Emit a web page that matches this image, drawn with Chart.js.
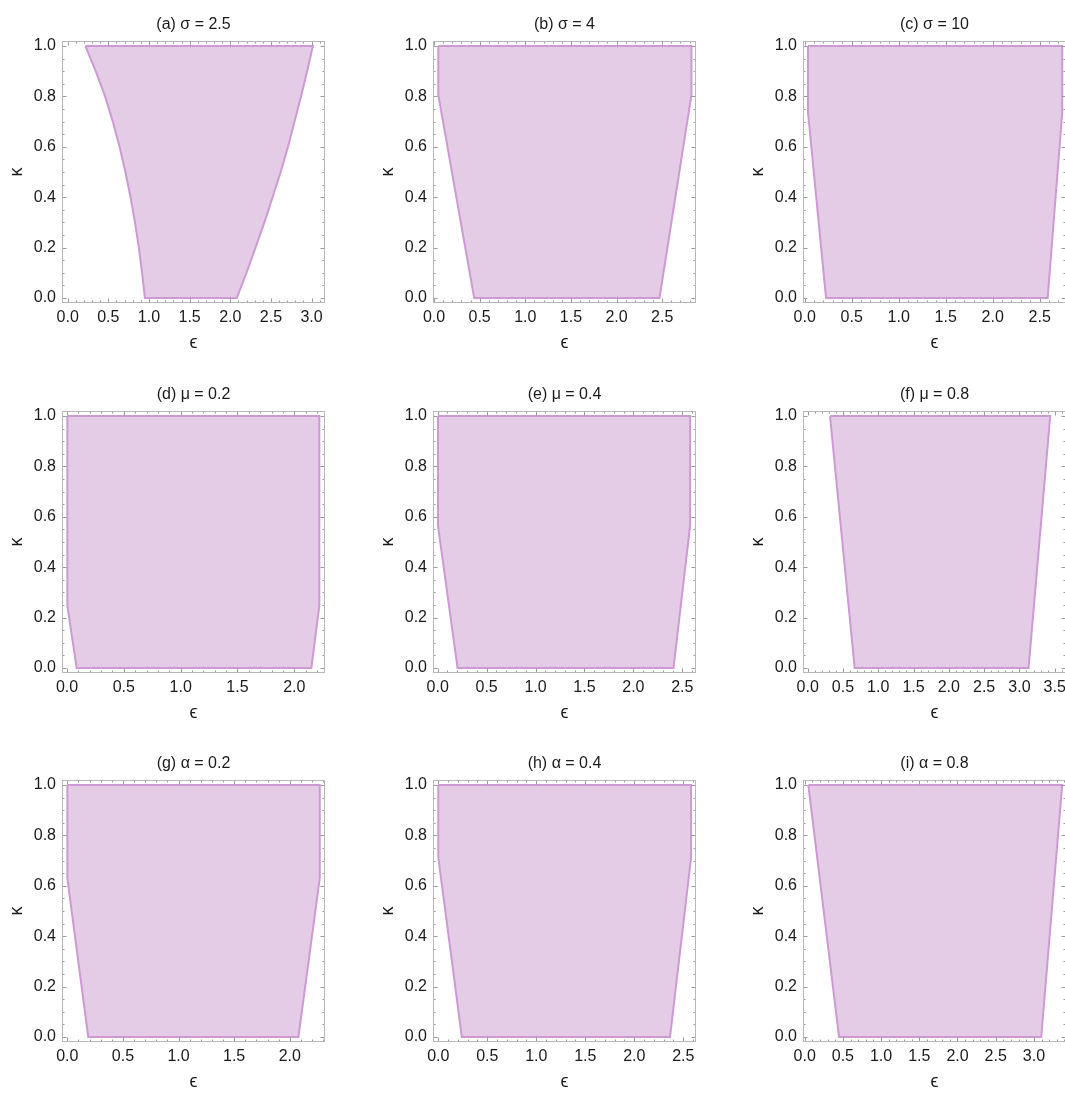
<!DOCTYPE html>
<html>
<head>
<meta charset="utf-8">
<title>Feasible region in the (ϵ, κ) plane</title>
<script src="https://cdn.jsdelivr.net/npm/chart.js@4.4.1/dist/chart.umd.min.js"></script>
<style>
  html, body { margin: 0; padding: 0; background: #fff; }
  body { width: 1065px; height: 1095px; position: relative; overflow: hidden; }
  canvas { position: absolute; }
</style>
</head>
<body>
<script>
// Panel titles, row by row
const panelTitles = [
  '(a) σ = 2.5', '(b) σ = 4',   '(c) σ = 10',
  '(d) μ = 0.2', '(e) μ = 0.4', '(f) μ = 0.8',
  '(g) α = 0.2', '(h) α = 0.4', '(i) α = 0.8'
];

// Region boundaries: ϵ and κ of each vertex, traced clockwise from the top-left corner
const epsA = [0.218, 3.016, 2.945, 2.87, 2.79, 2.71, 2.62, 2.52, 2.42, 2.31, 2.2, 2.08,
              0.95, 0.915, 0.875, 0.828, 0.773, 0.71, 0.638, 0.555, 0.46, 0.345, 0.218];
const kapA = [1, 1, 0.9, 0.8, 0.7, 0.6, 0.5, 0.4, 0.3, 0.2, 0.1, 0,
              0, 0.1, 0.2, 0.3, 0.4, 0.5, 0.6, 0.7, 0.8, 0.9, 1];

const epsB = [0.047, 2.82, 2.82, 2.47, 0.44, 0.047, 0.047];
const kapB = [1, 1, 0.806, 0, 0, 0.806, 1];

const epsC = [0.035, 2.74, 2.74, 2.585, 0.227, 0.035, 0.035];
const kapC = [1, 1, 0.737, 0, 0, 0.737, 1];

const epsD = [0.003, 2.22, 2.22, 2.15, 0.085, 0.003, 0.003];
const kapD = [1, 1, 0.247, 0, 0, 0.247, 1];

const epsE = [0.003, 2.58, 2.58, 2.41, 0.203, 0.003, 0.003];
const kapE = [1, 1, 0.565, 0, 0, 0.565, 1];

const epsF = [0.317, 3.436, 3.13, 0.666, 0.317];
const kapF = [1, 1, 0, 0, 1];

const epsG = [0.0, 2.27, 2.27, 2.078, 0.188, 0.0, 0.0];
const kapG = [1, 1, 0.63, 0, 0, 0.63, 1];

const epsH = [0.0, 2.58, 2.58, 2.365, 0.24, 0.0, 0.0];
const kapH = [1, 1, 0.713, 0, 0, 0.713, 1];

const epsI = [0.048, 3.37, 3.096, 0.45, 0.048];
const kapI = [1, 1, 0, 0, 1];

// Horizontal extent of each panel's ϵ axis
const epsMin = [-0.07, -0.011, -0.018, -0.044, -0.048, -0.066, -0.048, -0.054, -0.022];
const epsMax = [3.165, 2.87, 2.78, 2.27, 2.64, 3.66, 2.317, 2.63, 3.42];
const kapMin = -0.02;
const kapMax = 1.02;

// Labelled tick values
const epsTicks = [
  [0, 0.5, 1, 1.5, 2, 2.5, 3],
  [0, 0.5, 1, 1.5, 2, 2.5],
  [0, 0.5, 1, 1.5, 2, 2.5],
  [0, 0.5, 1, 1.5, 2],
  [0, 0.5, 1, 1.5, 2, 2.5],
  [0, 0.5, 1, 1.5, 2, 2.5, 3, 3.5],
  [0, 0.5, 1, 1.5, 2],
  [0, 0.5, 1, 1.5, 2, 2.5],
  [0, 0.5, 1, 1.5, 2, 2.5, 3]
];
const kapTicks = [0, 0.2, 0.4, 0.6, 0.8, 1];

const boundaries = [
  [epsA, kapA], [epsB, kapB], [epsC, kapC],
  [epsD, kapD], [epsE, kapE], [epsF, kapF],
  [epsG, kapG], [epsH, kapH], [epsI, kapI]
];

const FONT = "'Liberation Sans', Arial, 'DejaVu Sans', sans-serif";
const TEXT = '#1a1a1a';
const FILL = 'rgba(229, 204, 230, 1)';
const EDGE = 'rgba(205, 154, 212, 1)';

// Frame with inward major/minor ticks on all four sides
const frameTicks = {
  id: 'frameTicks',
  afterDatasetsDraw(chart) {
    const {ctx, chartArea: a, scales: {x, y}} = chart;
    const L = Math.round(a.left) + 0.5, R = Math.round(a.right) - 0.5;
    const T = Math.round(a.top) + 0.5, B = Math.round(a.bottom) - 0.5;
    ctx.save();
    ctx.lineWidth = 1;
    ctx.strokeStyle = '#9a9a9a';
    ctx.beginPath();
    const xs = Math.ceil(x.min * 10 - 1e-9), xe = Math.floor(x.max * 10 + 1e-9);
    for (let i = xs; i <= xe; i++) {
      const px = Math.round(x.getPixelForValue(i / 10)) + 0.5;
      const len = (i % 5 === 0) ? 4 : 2;
      ctx.moveTo(px, B); ctx.lineTo(px, B - len);
      ctx.moveTo(px, T); ctx.lineTo(px, T + len);
    }
    const ys = Math.ceil(y.min * 20 - 1e-9), ye = Math.floor(y.max * 20 + 1e-9);
    for (let j = ys; j <= ye; j++) {
      const py = Math.round(y.getPixelForValue(j / 20)) + 0.5;
      const len = (j % 4 === 0) ? 4 : 2;
      ctx.moveTo(L, py); ctx.lineTo(L + len, py);
      ctx.moveTo(R, py); ctx.lineTo(R - len, py);
    }
    ctx.stroke();
    ctx.strokeStyle = '#b8b8b8';
    ctx.strokeRect(L, T, R - L, B - T);
    ctx.restore();
  }
};

// Canvas placement of the 3x3 grid
const colLeft = [0, 371, 741];
const rowTop = [0, 370, 739];
const CW = 333, CH = 360;

panelTitles.forEach((title, k) => {
  const canvas = document.createElement('canvas');
  canvas.width = CW; canvas.height = CH;
  canvas.style.left = colLeft[k % 3] + 'px';
  canvas.style.top = rowTop[Math.floor(k / 3)] + 'px';
  canvas.style.width = CW + 'px'; canvas.style.height = CH + 'px';
  document.body.appendChild(canvas);

  const [eps, kap] = boundaries[k];
  const points = eps.map((e, i) => ({x: e, y: kap[i]}));
  const ticksX = epsTicks[k];

  new Chart(canvas, {
    type: 'line',
    data: {
      datasets: [{
        data: points,
        fill: 'shape',
        backgroundColor: FILL,
        borderColor: EDGE,
        borderWidth: 2,
        pointRadius: 0,
        tension: 0
      }]
    },
    options: {
      responsive: false,
      animation: false,
      devicePixelRatio: 1,
      layout: { padding: { left: 0, right: 8, top: 0, bottom: 0 } },
      plugins: {
        legend: { display: false },
        tooltip: { enabled: false },
        title: {
          display: true,
          text: title,
          fullSize: false,
          color: TEXT,
          font: { family: FONT, size: 16, weight: 'normal', lineHeight: 1.2 },
          padding: { top: 15.4, bottom: 6.4 }
        }
      },
      scales: {
        x: {
          type: 'linear',
          min: epsMin[k],
          max: epsMax[k],
          grid: { display: false, drawTicks: false },
          border: { display: false },
          afterBuildTicks: s => { s.ticks = ticksX.map(v => ({value: v})); },
          afterFit: s => { s.height = 57; },
          ticks: {
            padding: 5.4,
            color: TEXT,
            maxRotation: 0,
            autoSkip: false,
            font: { family: FONT, size: 16, lineHeight: 1.2 },
            callback: v => Number(v).toFixed(1)
          },
          title: {
            display: true,
            text: 'ϵ',
            color: TEXT,
            font: { family: FONT, size: 18, lineHeight: 1.2 },
            padding: { top: 0, bottom: 6.2 }
          }
        },
        y: {
          type: 'linear',
          min: kapMin,
          max: kapMax,
          grid: { display: false, drawTicks: false },
          border: { display: false },
          afterBuildTicks: s => { s.ticks = kapTicks.map(v => ({value: v})); },
          afterFit: s => { s.width = 62; },
          ticks: {
            padding: 6,
            color: TEXT,
            autoSkip: false,
            font: { family: FONT, size: 16, lineHeight: 1.2 },
            callback: v => Number(v).toFixed(1)
          },
          title: {
            display: true,
            text: 'κ',
            color: TEXT,
            font: { family: FONT, size: 18, lineHeight: 1.2 },
            padding: { top: 6.2, bottom: 0 }
          }
        }
      }
    },
    plugins: [frameTicks]
  });
});
</script>
</body>
</html>
